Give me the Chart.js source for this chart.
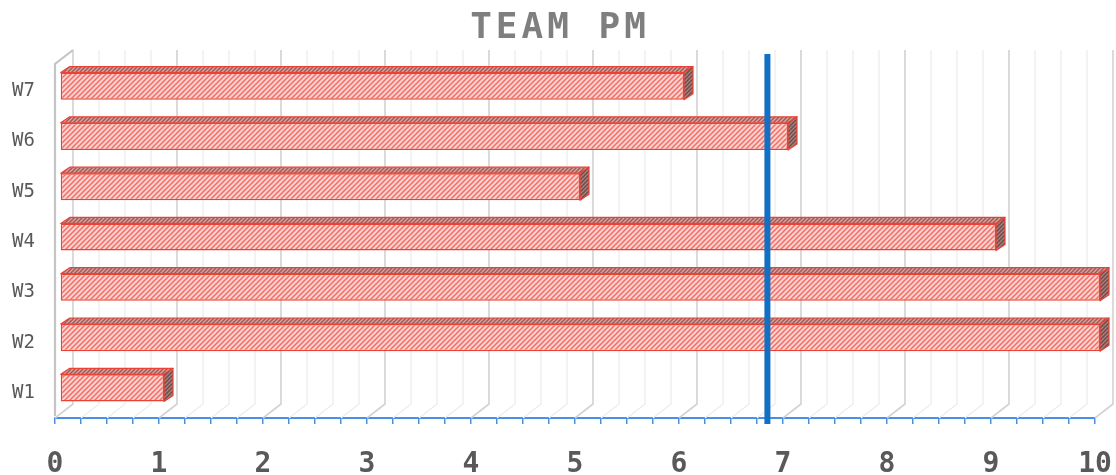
<!DOCTYPE html>
<html>
<head>
<meta charset="utf-8">
<title>TEAM PM</title>
<script src="https://cdn.jsdelivr.net/npm/chart.js@4"></script>
<style>
  html, body { margin: 0; padding: 0; background: #fff; }
  #wrap { width: 1116px; height: 475px; }
</style>
</head>
<body>
<div id="wrap"><canvas id="c"></canvas></div>
<script>
// weekly scores
const weeks = ["W1", "W2", "W3", "W4", "W5", "W6", "W7"];
const scores = [1, 10, 10, 9, 5, 7, 6];
const targetLine = 6.85;
const xTicks = [0, 1, 2, 3, 4, 5, 6, 7, 8, 9, 10];

const chartTitle = "TEAM PM";
const monoFont = "'DejaVu Sans Mono', 'Liberation Mono', monospace";

// depth of the floor/walls and of the bars themselves
const WALL_DX = 18, WALL_DY = 14;
const BAR_DX = 9, BAR_DY = 6;
const BAR_SHIFT_X = 5, BAR_SHIFT_Y = -5;

const ctx = document.getElementById("c").getContext("2d");

function hatch(bg, fg, size, lw) {
  const tile = document.createElement("canvas");
  tile.width = tile.height = size;
  const g = tile.getContext("2d");
  g.fillStyle = bg;
  g.fillRect(0, 0, size, size);
  g.strokeStyle = fg;
  g.lineWidth = lw;
  g.beginPath();
  g.moveTo(0, size); g.lineTo(size, 0);
  g.moveTo(-size / 2, size / 2); g.lineTo(size / 2, -size / 2);
  g.moveTo(size / 2, size * 1.5); g.lineTo(size * 1.5, size / 2);
  g.stroke();
  return ctx.createPattern(tile, "repeat");
}

const frontFill = hatch("#fcd3d0", "#f16c63", 5, 1.5);
const topFill = hatch("#d7a3a0", "#9c5a56", 4, 1.4);
const sideFill = hatch("#a8807e", "#6e4a48", 4, 1.4);
const barRed = "#ea4335";

// back wall, floor and left wall drawn behind the bars
const walls = {
  id: "walls",
  beforeDatasetsDraw(chart) {
    const c = chart.ctx;
    const x = chart.scales.x;
    const area = chart.chartArea;
    const floorY = area.bottom;
    const topY = area.top - 16;
    c.save();
    for (let v = 0; v <= 10.001; v += 0.25) {
      const px = x.getPixelForValue(v);
      const major = Math.abs(v - Math.round(v)) < 1e-6;
      c.strokeStyle = major ? "#d2d2d2" : "#ebebeb";
      c.lineWidth = major ? 1.6 : 1.2;
      c.beginPath();
      c.moveTo(px + WALL_DX, topY);
      c.lineTo(px + WALL_DX, floorY - WALL_DY);
      c.lineTo(px, floorY);
      c.stroke();
    }
    // left wall edge
    const x0 = x.getPixelForValue(0);
    c.strokeStyle = "#c4c4c4";
    c.lineWidth = 2.2;
    c.beginPath();
    c.moveTo(x0, floorY - 2);
    c.lineTo(x0, topY + WALL_DY);
    c.lineTo(x0 + WALL_DX, topY);
    c.stroke();
    c.restore();

    // bars sit in the middle of the depth
    c.save();
    c.translate(BAR_SHIFT_X, BAR_SHIFT_Y);
  },
  afterDatasetsDraw(chart) {
    const c = chart.ctx;
    const meta = chart.getDatasetMeta(0);
    meta.data.forEach(bar => {
      const p = bar.getProps(["x", "y", "base", "height"], true);
      const top = p.y - p.height / 2;
      const bottom = p.y + p.height / 2;
      c.lineWidth = 1.2;
      c.strokeStyle = barRed;
      c.lineJoin = "round";
      // top face
      c.beginPath();
      c.moveTo(p.base, top);
      c.lineTo(p.base + BAR_DX, top - BAR_DY);
      c.lineTo(p.x + BAR_DX, top - BAR_DY);
      c.lineTo(p.x, top);
      c.closePath();
      c.fillStyle = topFill;
      c.fill();
      c.stroke();
      // right face
      c.beginPath();
      c.moveTo(p.x, top);
      c.lineTo(p.x + BAR_DX, top - BAR_DY);
      c.lineTo(p.x + BAR_DX, bottom - BAR_DY);
      c.lineTo(p.x, bottom);
      c.closePath();
      c.fillStyle = sideFill;
      c.fill();
      c.stroke();
    });
    c.restore();

    // target line
    const x = chart.scales.x;
    const px = x.getPixelForValue(targetLine);
    c.save();
    c.strokeStyle = "#1170c4";
    c.lineWidth = 6;
    c.beginPath();
    c.moveTo(px, chart.chartArea.top - 12);
    c.lineTo(px, chart.chartArea.bottom + 6);
    c.stroke();
    c.restore();
  }
};

const spacedTitle = {
  id: "spacedTitle",
  afterDraw(chart) {
    const c = chart.ctx;
    c.save();
    c.font = "bold 36px " + monoFont;
    c.fillStyle = "#7f7f7f";
    c.textAlign = "center";
    c.textBaseline = "middle";
    if ("letterSpacing" in c) c.letterSpacing = "4px";
    c.fillText(chartTitle, chart.width / 2 + 2, 29);
    c.restore();
  }
};

new Chart(ctx, {
  type: "bar",
  data: {
    labels: weeks,
    datasets: [{
      label: chartTitle,
      data: scores,
      backgroundColor: frontFill,
      borderColor: barRed,
      borderWidth: 1.5,
      borderSkipped: false,
      categoryPercentage: 1,
      barPercentage: 0.54
    }]
  },
  options: {
    indexAxis: "y",
    responsive: true,
    maintainAspectRatio: false,
    animation: false,
    layout: { padding: { top: 66, right: 21, bottom: 0, left: 12 } },
    plugins: {
      legend: { display: false },
      title: { display: false },
      tooltip: { enabled: false }
    },
    scales: {
      x: {
        min: 0,
        max: 10,
        afterFit: s => {
          s.height = 57;
          s.paddingLeft = 0;
          s.paddingRight = 0;
        },
        grid: {
          drawOnChartArea: false,
          drawTicks: true,
          tickLength: 6,
          color: "#4a8fe7",
          lineWidth: 1.5
        },
        border: { display: true, color: "#4a8fe7", width: 2 },
        ticks: {
          stepSize: 0.25,
          autoSkip: false,
          maxRotation: 0,
          padding: 27,
          color: "#595959",
          font: { family: monoFont, size: 28, weight: "bold", lineHeight: 1 },
          callback: v => xTicks.includes(v) ? String(v) : ""
        }
      },
      y: {
        reverse: true,
        afterFit: s => { s.width = 43; },
        grid: { display: false, drawTicks: false },
        border: { display: false },
        ticks: {
          padding: 20,
          color: "#595959",
          font: { family: monoFont, size: 19 }
        }
      }
    }
  },
  plugins: [walls, spacedTitle]
});
</script>
</body>
</html>
